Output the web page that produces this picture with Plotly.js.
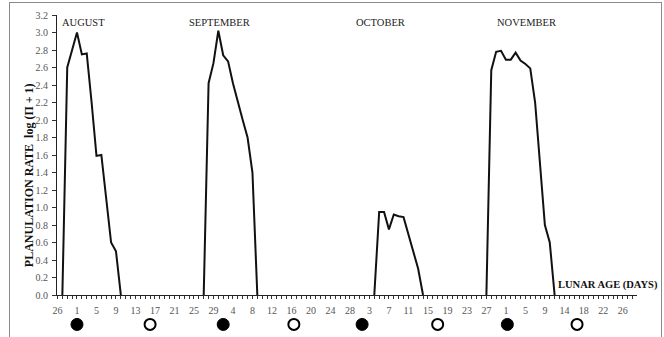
<!DOCTYPE html>
<html>
<head>
<meta charset="utf-8">
<script src="https://cdn.plot.ly/plotly-3.0.1.min.js"></script>
<style>
  html, body { margin: 0; padding: 0; background: #fff; }
  #wrap { position: relative; width: 664px; height: 337px; overflow: hidden; }
  #chart { width: 664px; height: 337px; }
  #frame { position: absolute; left: 9px; top: 2px; width: 653px; height: 345px;
           border: 1px solid #8a8a8a; pointer-events: none; box-sizing: border-box; }
</style>
</head>
<body>
<div id="wrap">
  <div id="chart"></div>
  <div id="frame"></div>
</div>
<script>
// ---- data (day index along the axis, planulation rate log(Π+1)) ----
const tickLabels = ['26','1','5','9','13','17','21','25','29','4','8','12','16','20','24',
                    '28','3','7','11','15','19','23','27','1','5','9','14','18','22','26'];

const augDay  = [1, 2, 3, 4, 5, 6, 7, 8, 9, 10, 11, 12, 13];
const augRate = [0, 2.6, 2.8, 3.0, 2.75, 2.76, 2.2, 1.59, 1.6, 1.1, 0.6, 0.5, 0];

const sepDay  = [30, 31, 32, 33, 34, 35, 36, 37, 38, 39, 40, 41];
const sepRate = [0, 2.42, 2.65, 3.02, 2.74, 2.67, 2.42, 2.2, 2.0, 1.8, 1.4, 0];

const octDay  = [65, 66, 67, 68, 69, 70, 71, 72, 73, 74, 75];
const octRate = [0, 0.95, 0.95, 0.75, 0.92, 0.9, 0.89, 0.7, 0.5, 0.3, 0];

const novDay  = [88, 89, 90, 91, 92, 93, 94, 95, 96, 97, 98, 99, 100, 101, 102];
const novRate = [0, 2.57, 2.78, 2.79, 2.69, 2.69, 2.77, 2.68, 2.64, 2.59, 2.2, 1.5, 0.8, 0.6, 0];

const newMoonDay  = [4, 34, 62.5, 92.3];
const fullMoonDay = [19, 48.5, 78, 106.6];

const monthNames = ['AUGUST', 'SEPTEMBER', 'OCTOBER', 'NOVEMBER'];
const monthLabelDay = [5.4, 33.3, 66.3, 96.2];

// ---- build ----
const serif = 'Liberation Serif, Times New Roman, serif';
const lineStyle = {color: '#111', width: 2};
const series = [[augDay, augRate], [sepDay, sepRate], [octDay, octRate], [novDay, novRate]];
const traces = series.map(s => ({
  x: s[0], y: s[1], type: 'scatter', mode: 'lines', line: lineStyle,
  hoverinfo: 'skip', showlegend: false
}));

traces.push({
  x: newMoonDay, y: newMoonDay.map(() => 0), yaxis: 'y2', type: 'scatter', mode: 'markers',
  marker: {size: 12, color: '#000', line: {color: '#000', width: 1}},
  cliponaxis: false, showlegend: false, hoverinfo: 'skip'
});
traces.push({
  x: fullMoonDay, y: fullMoonDay.map(() => 0), yaxis: 'y2', type: 'scatter', mode: 'markers',
  marker: {size: 11, color: '#fff', line: {color: '#000', width: 2}},
  cliponaxis: false, showlegend: false, hoverinfo: 'skip'
});

const tickvals = tickLabels.map((_, i) => i * 4);
const yTicks = [];
for (let i = 0; i <= 16; i++) yTicks.push(+(i * 0.2).toFixed(1));

const annotations = monthNames.map((m, i) => ({
  x: monthLabelDay[i], y: 3.11, xref: 'x', yref: 'y', text: m, showarrow: false,
  xanchor: 'center', yanchor: 'middle',
  font: {family: serif, size: 10.5, color: '#222'}
}));
annotations.push({
  x: 1.039, y: 0.156, xref: 'paper', yref: 'paper', text: '<b>LUNAR AGE (DAYS)</b>',
  showarrow: false, xanchor: 'right', yanchor: 'middle',
  font: {family: serif, size: 10.5, color: '#111'}
});
annotations.push({
  x: -0.048, y: 0.5, xref: 'paper', yref: 'paper',
  text: '<b>PLANULATION RATE  log (Π + 1)</b>', textangle: -90,
  showarrow: false, xanchor: 'center', yanchor: 'middle',
  font: {family: serif, size: 12, color: '#111'}
});

const layout = {
  width: 664, height: 337,
  margin: {l: 57, r: 27, t: 15, b: 2},
  paper_bgcolor: '#fff', plot_bgcolor: '#fff',
  showlegend: false,
  xaxis: {
    range: [-0.1, 118.9], showgrid: false, zeroline: false, anchor: 'y',
    showline: true, linecolor: '#222', linewidth: 1,
    tickmode: 'array', tickvals: tickvals, ticktext: tickLabels,
    ticks: 'outside', ticklen: 3, tickcolor: '#333', tickwidth: 1,
    minor: {dtick: 1, tick0: 0, ticks: 'outside', ticklen: 3, tickcolor: '#333', tickwidth: 1, showgrid: false},
    tickfont: {family: serif, size: 10, color: '#555'},
    ticklabelstandoff: 3,
    fixedrange: true
  },
  yaxis: {
    domain: [0.125, 1],
    range: [0, 3.2], showgrid: false, zeroline: false,
    showline: true, linecolor: '#222', linewidth: 1,
    tickmode: 'array', tickvals: yTicks, ticktext: yTicks.map(v => v.toFixed(1)),
    ticks: 'outside', ticklen: 4, tickcolor: '#333', tickwidth: 1,
    tickfont: {family: serif, size: 10, color: '#555'},
    ticklabelstandoff: 2,
    fixedrange: true
  },
  yaxis2: {
    domain: [0, 0.066], range: [-1, 1], visible: false, anchor: 'x', fixedrange: true
  },
  annotations: annotations
};

Plotly.newPlot('chart', traces, layout, {staticPlot: true, displayModeBar: false});
</script>
</body>
</html>
